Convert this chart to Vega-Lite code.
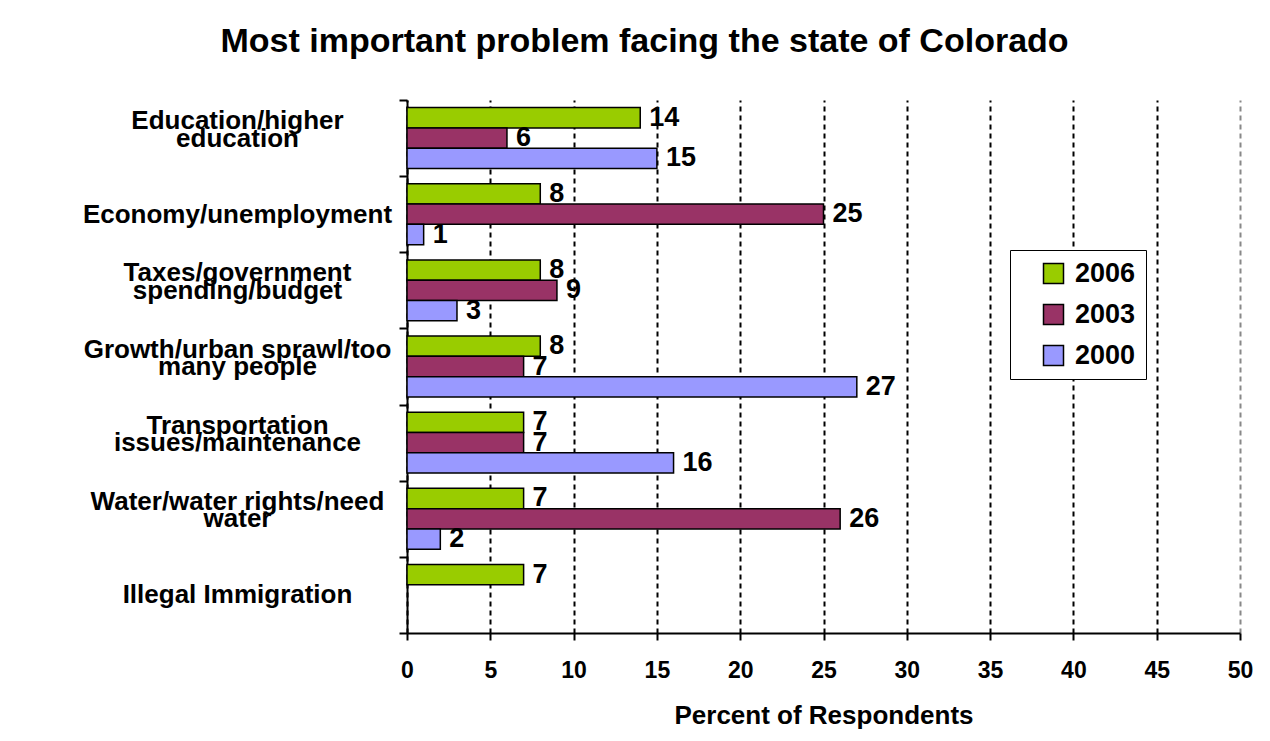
{
  "$schema": "https://vega.github.io/schema/vega-lite/v6.json",
  "width": 833,
  "height": 533,
  "autosize": {"type": "none"},
  "padding": {"left": 407, "top": 100, "right": 30, "bottom": 108},
  "background": "white",
  "config": {"font": "Liberation Sans", "view": {"stroke": null}},
  "title": {
    "text": "Most important problem facing the state of Colorado",
    "fontSize": 34,
    "fontWeight": "bold",
    "color": "black",
    "anchor": "middle",
    "frame": "group",
    "dx": -179,
    "offset": 28
  },
  "data": {
    "values": [
      {"problem": "Education/higher\neducation", "year": "2006", "percent": 14},
      {"problem": "Education/higher\neducation", "year": "2003", "percent": 6},
      {"problem": "Education/higher\neducation", "year": "2000", "percent": 15},
      {"problem": "Economy/unemployment", "year": "2006", "percent": 8},
      {"problem": "Economy/unemployment", "year": "2003", "percent": 25},
      {"problem": "Economy/unemployment", "year": "2000", "percent": 1},
      {"problem": "Taxes/government\nspending/budget", "year": "2006", "percent": 8},
      {"problem": "Taxes/government\nspending/budget", "year": "2003", "percent": 9},
      {"problem": "Taxes/government\nspending/budget", "year": "2000", "percent": 3},
      {"problem": "Growth/urban sprawl/too\nmany people", "year": "2006", "percent": 8},
      {"problem": "Growth/urban sprawl/too\nmany people", "year": "2003", "percent": 7},
      {"problem": "Growth/urban sprawl/too\nmany people", "year": "2000", "percent": 27},
      {"problem": "Transportation\nissues/maintenance", "year": "2006", "percent": 7},
      {"problem": "Transportation\nissues/maintenance", "year": "2003", "percent": 7},
      {"problem": "Transportation\nissues/maintenance", "year": "2000", "percent": 16},
      {"problem": "Water/water rights/need\nwater", "year": "2006", "percent": 7},
      {"problem": "Water/water rights/need\nwater", "year": "2003", "percent": 26},
      {"problem": "Water/water rights/need\nwater", "year": "2000", "percent": 2},
      {"problem": "Illegal Immigration", "year": "2006", "percent": 7}
    ]
  },
  "encoding": {
    "y": {
      "field": "problem",
      "type": "nominal",
      "scale": {
        "domain": [
          "Education/higher\neducation",
          "Economy/unemployment",
          "Taxes/government\nspending/budget",
          "Growth/urban sprawl/too\nmany people",
          "Transportation\nissues/maintenance",
          "Water/water rights/need\nwater",
          "Illegal Immigration"
        ],
        "paddingInner": 0,
        "paddingOuter": 0
      },
      "axis": {
        "title": null,
        "grid": false,
        "domainColor": "black",
        "domainWidth": 2,
        "tickBand": "extent",
        "tickColor": "black",
        "tickWidth": 2,
        "tickSize": 8,
        "labelFontSize": 26,
        "labelFontWeight": "bold",
        "labelColor": "black",
        "labelAlign": "center",
        "labelBaseline": "middle",
        "labelLineHeight": 17.5,
        "labelLimit": 0,
        "labelExpr": "length(split(datum.label, '\\n')) > 1 ? [split(datum.label, '\\n')[0], '', split(datum.label, '\\n')[1]] : ['', datum.label]",
        "labelOffset": -17.5,
        "labelPadding": 162
      }
    },
    "yOffset": {
      "field": "year",
      "type": "nominal",
      "scale": {"domain": ["2006", "2003", "2000"], "paddingInner": 0, "paddingOuter": 0.375}
    },
    "x": {
      "field": "percent",
      "type": "quantitative",
      "scale": {"domain": [0, 50], "nice": false},
      "axis": {
        "title": "Percent of Respondents",
        "titleFontSize": 26,
        "titleFontWeight": "bold",
        "titleColor": "black",
        "titlePadding": 20,
        "values": [0, 5, 10, 15, 20, 25, 30, 35, 40, 45, 50],
        "labelFontSize": 23,
        "labelFontWeight": "bold",
        "labelColor": "black",
        "labelPadding": 19,
        "labelFlush": false,
        "tickSize": 7,
        "tickWidth": 2,
        "tickColor": "black",
        "domainColor": "black",
        "domainWidth": 2,
        "grid": true,
        "gridColor": {"condition": {"test": "datum.value == 50", "value": "#888888"}, "value": "black"},
        "gridWidth": 2,
        "gridDash": [5, 4],
        "gridOpacity": 1
      }
    }
  },
  "layer": [
    {
      "mark": {"type": "bar", "stroke": "black", "strokeWidth": 1.5},
      "encoding": {
        "fill": {
          "field": "year",
          "type": "nominal",
          "scale": {"domain": ["2006", "2003", "2000"], "range": ["#99CC00", "#993366", "#9999FF"]},
          "legend": {
            "title": null,
            "orient": "none",
            "legendX": 603,
            "legendY": 150,
            "strokeColor": "black",
            "fillColor": "white",
            "padding": 10,
            "symbolType": "square",
            "symbolSize": 400,
            "symbolStrokeColor": "black",
            "symbolStrokeWidth": 1.5,
            "symbolOffset": 20,
            "labelFontSize": 27,
            "labelFontWeight": "bold",
            "labelColor": "black",
            "labelOffset": 8,
            "rowPadding": 13
          }
        }
      }
    },
    {
      "mark": {"type": "text", "align": "left", "baseline": "middle", "dx": 9, "fontSize": 27, "fontWeight": "bold", "color": "black"},
      "encoding": {
        "text": {"field": "percent", "type": "quantitative"}
      }
    }
  ]
}
